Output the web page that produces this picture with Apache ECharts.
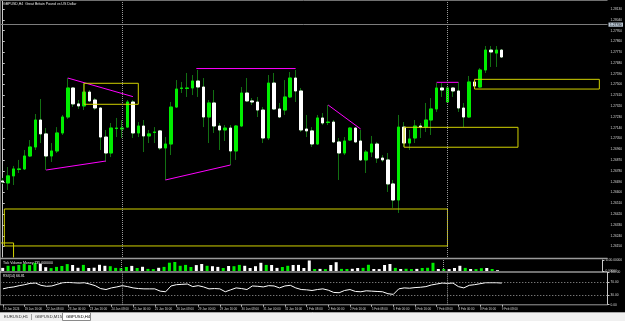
<!DOCTYPE html>
<html>
<head>
<meta charset="utf-8">
<script src="https://cdn.jsdelivr.net/npm/echarts@6/dist/echarts.min.js"></script>
<style>
html, body { margin: 0; padding: 0; background: #000; }
#main { width: 625px; height: 321px; }
</style>
</head>
<body>
<div id="main"></div>
<script>
// GBPUSD,H4 bars (0 = left-most visible bar)
var opens = [1.26697,1.26680,1.26739,1.26793,1.26797,1.26905,1.26980,1.27205,1.27089,1.26905,
  1.26947,1.27097,1.27230,1.27472,1.27339,1.27322,1.27438,1.27372,1.27305,1.27063,
  1.26930,1.27134,1.27130,1.27146,1.27355,1.27097,1.27155,1.27072,1.27101,1.27114,
  1.26972,1.27005,1.27313,1.27468,1.27468,1.27472,1.27530,1.27480,1.27230,1.27347,
  1.27155,1.27122,1.27138,1.26947,1.27155,1.27430,1.27364,1.27355,1.27288,1.27055,
  1.27513,1.27297,1.27288,1.27397,1.27555,1.27447,1.27130,1.27114,1.27005,1.27222,
  1.27184,1.27188,1.27022,1.26930,1.27038,1.27138,1.27030,1.26872,1.26938,1.27005,
  1.26888,1.26872,1.26672,1.26538,1.27146,1.27013,1.27055,1.27155,1.27146,1.27205,
  1.27297,1.27472,1.27355,1.27472,1.27447,1.27305,1.27230,1.27522,1.27480,1.27622,
  1.27788,1.27763,1.27788];
var closes = [1.26688,1.26739,1.26797,1.26797,1.26905,1.26980,1.27205,1.27089,1.26905,1.26947,
  1.27097,1.27230,1.27472,1.27339,1.27322,1.27438,1.27364,1.27305,1.27063,1.26930,
  1.27138,1.27138,1.27138,1.27355,1.27097,1.27155,1.27072,1.27089,1.27105,1.26972,
  1.27005,1.27313,1.27463,1.27472,1.27472,1.27530,1.27480,1.27230,1.27347,1.27155,
  1.27122,1.27138,1.26947,1.27155,1.27430,1.27364,1.27355,1.27288,1.27055,1.27513,
  1.27297,1.27230,1.27397,1.27555,1.27447,1.27122,1.27114,1.27005,1.27222,1.27180,
  1.27188,1.27022,1.26930,1.27030,1.27138,1.27022,1.26872,1.26938,1.27005,1.26888,
  1.26872,1.26672,1.26538,1.27146,1.27013,1.27047,1.27155,1.27146,1.27205,1.27297,
  1.27472,1.27455,1.27472,1.27447,1.27305,1.27230,1.27522,1.27488,1.27622,1.27788,
  1.27772,1.27788,1.27730];
var lows = [1.26672,1.26622,1.26663,1.26763,1.26788,1.26896,1.26955,1.27013,1.26788,1.26855,
  1.26930,1.27080,1.27214,1.27313,1.27297,1.27288,1.27355,1.27288,1.26955,1.26855,
  1.26896,1.27063,1.27055,1.27138,1.27055,1.27063,1.26938,1.27013,1.27013,1.26955,
  1.26705,1.26913,1.27305,1.27430,1.27397,1.27413,1.27397,1.27146,1.27013,1.27097,
  1.26955,1.27030,1.26830,1.26872,1.27146,1.27355,1.27330,1.27230,1.27013,1.27038,
  1.27288,1.27222,1.27247,1.27388,1.27355,1.27105,1.27063,1.26980,1.26997,1.27163,
  1.27163,1.27013,1.26705,1.26913,1.27030,1.27013,1.26863,1.26763,1.26896,1.26847,
  1.26855,1.26605,1.26472,1.26430,1.26980,1.26955,1.27013,1.27055,1.27105,1.27080,
  1.27272,1.27397,1.27347,1.27397,1.27272,1.27146,1.27222,1.27480,1.27472,1.27597,
  1.27647,1.27647,1.27722];
var highs = [1.26722,1.26813,1.26822,1.26872,1.26955,1.27038,1.27255,1.27380,1.27138,1.27013,
  1.27146,1.27247,1.27555,1.27480,1.27372,1.27513,1.27455,1.27388,1.27313,1.27122,
  1.27180,1.27222,1.27205,1.27372,1.27372,1.27188,1.27205,1.27122,1.27146,1.27122,
  1.27063,1.27355,1.27538,1.27522,1.27597,1.27580,1.27622,1.27555,1.27372,1.27455,
  1.27180,1.27163,1.27163,1.27163,1.27480,1.27555,1.27388,1.27397,1.27313,1.27580,
  1.27597,1.27347,1.27538,1.27605,1.27622,1.27472,1.27247,1.27146,1.27247,1.27263,
  1.27330,1.27205,1.27055,1.27063,1.27146,1.27146,1.27122,1.26955,1.27072,1.27022,
  1.26913,1.26930,1.26705,1.27247,1.27188,1.27122,1.27205,1.27180,1.27347,1.27388,
  1.27513,1.27513,1.27480,1.27480,1.27522,1.27347,1.27572,1.27538,1.27638,1.27822,
  1.27822,1.27822,1.27797];
var volumes = [310,520,480,610,700,590,820,730,380,290,
  410,500,690,600,320,610,300,330,620,520,
  480,310,290,400,510,300,420,210,190,320,
  410,830,900,520,610,400,590,700,520,480,
  410,300,500,480,610,520,300,480,820,610,
  600,310,400,520,600,610,300,1050,200,210,
  190,600,880,210,200,220,300,310,620,200,
  190,600,700,310,200,220,190,210,300,320,
  820,200,210,190,300,520,310,200,190,280,
  300,200,80];
var rsi = [49,53,55,59,62,66,67,60,57,58,
  63,68,69,68,67,68,64,59,50,47,
  52,55,59,56,52,50,49,49,49,42,
  40,58,62,63,64,56,59,55,49,50,
  49,40,46,52,50,47,58,57,55,59,
  58,52,58,60,52,47,46,44,47,49,
  45,38,37,44,47,41,40,43,42,41,
  40,34,32,49,52,51,53,54,56,61,
  64,67,66,67,56,52,60,62,65,68,
  68,68,67];
// one time label every 4 bars
var timeLabels = ['19 Jan 2024','19 Jan 16:00','22 Jan 08:00','23 Jan 00:00','23 Jan 16:00','24 Jan 08:00',
  '25 Jan 00:00','25 Jan 16:00','26 Jan 08:00','29 Jan 00:00','29 Jan 16:00','30 Jan 08:00',
  '31 Jan 00:00','31 Jan 16:00','1 Feb 08:00','2 Feb 00:00','2 Feb 16:00','5 Feb 08:00',
  '6 Feb 00:00','6 Feb 16:00','7 Feb 08:00','8 Feb 00:00','8 Feb 16:00','9 Feb 08:00'];
var priceTicks = [1.28130,1.28040,1.27950,1.27860,1.27770,1.27680,1.27590,1.27500,1.27410,1.27320,
  1.27230,1.27140,1.27050,1.26960,1.26870,1.26780,1.26690,1.26600,1.26510,1.26420,
  1.26330,1.26240,1.26150];
var volTicks = [0, 1100];
var rsiTicks = [0, 30, 70, 100];
var rsiLevels = [70, 30];
var bidPrice = 1.27730;
var separators = [22, 82];
// objects drawn on the chart, in bar index / price
var trendLines = [
  [12, 1.27555, 24, 1.27400],
  [8, 1.26788, 19, 1.26863],
  [30, 1.26705, 42, 1.26830],
  [35.7, 1.27634, 54, 1.27634],
  [60, 1.27330, 66, 1.27130],
  [80, 1.27519, 84, 1.27519]
];
var boxes = [
  [15, 25, 1.27336, 1.27511],
  [74, 95, 1.26978, 1.27144],
  [87, 110, 1.27463, 1.27544],
  [0.3, 82, 1.26155, 1.26463],
  [-1, 2, 1.26000, 1.26180]
];

var upColor = '#00ee00';
var downColor = '#ffffff';
var wickColor = '#127012';
var magenta = '#ff00ff';
var yellow = '#d2d200';
var axisColor = '#c8c8c8';
var font = 'Liberation Sans';
var nSlots = 112;

var categories = [];
for (var i = 0; i < nSlots; i++) {
  categories.push(i % 4 === 0 && i / 4 < timeLabels.length ? timeLabels[i / 4] : '');
}
var wickData = opens.map(function (o, i) { return [o, closes[i], lows[i], highs[i]]; });
var bodyData = opens.map(function (o, i) {
  return [o, closes[i], Math.min(o, closes[i]), Math.max(o, closes[i])];
});
var volData = volumes.map(function (v, i) {
  return { value: v, itemStyle: { color: closes[i] >= opens[i] ? upColor : downColor } };
});

var dotted = { color: '#9a9a9a', type: [1, 1], width: 1 };
function sepLines() {
  return separators.map(function (s) { return { xAxis: s, lineStyle: dotted, label: { show: false } }; });
}

var overlays = [];
trendLines.forEach(function (t) {
  overlays.push({
    type: 'line', xAxisIndex: 3, yAxisIndex: 0, data: [[t[0], t[1]], [t[2], t[3]]],
    symbol: 'none', silent: true, clip: true, z: 4,
    lineStyle: { color: magenta, width: 1 }
  });
});
boxes.forEach(function (b) {
  overlays.push({
    type: 'line', xAxisIndex: 3, yAxisIndex: 0,
    data: [[b[0], b[2]], [b[1], b[2]], [b[1], b[3]], [b[0], b[3]], [b[0], b[2]]],
    symbol: 'none', silent: true, clip: true, z: 4,
    lineStyle: { color: yellow, width: 1 }
  });
});

function yAx(grid, min, max, ticks, fmt) {
  return {
    type: 'value', gridIndex: grid, position: 'right', min: min, max: max, scale: true,
    splitLine: { show: false },
    axisLine: { show: true, lineStyle: { color: axisColor, width: 1 } },
    axisTick: { show: true, length: 2, customValues: ticks, lineStyle: { color: axisColor } },
    axisLabel: {
      show: true, customValues: ticks, color: '#d8d8d8', fontSize: 3.2, fontFamily: font, margin: 3,
      formatter: fmt
    }
  };
}

var gl = -2.1, gr = 17.5;
var option = {
  backgroundColor: '#000',
  animation: false,
  grid: [
    { left: gl, right: gr, top: 1, height: 256 },
    { left: gl, right: gr, top: 260, height: 11 },
    { left: gl, right: gr, top: 272.4, height: 32.3 }
  ],
  xAxis: [
    { type: 'category', gridIndex: 0, data: categories, boundaryGap: true,
      axisLine: { show: false }, axisTick: { show: false }, axisLabel: { show: false } },
    { type: 'category', gridIndex: 1, data: categories, boundaryGap: true,
      axisLine: { show: false }, axisTick: { show: false }, axisLabel: { show: false } },
    { type: 'category', gridIndex: 2, data: categories, boundaryGap: true,
      axisLine: { show: false },
      axisTick: { show: true, length: 2, alignWithLabel: true,
        interval: function (i, v) { return v !== ''; }, lineStyle: { color: axisColor } },
      axisLabel: { show: true, interval: 0, color: '#d0d0d0', fontSize: 3, fontFamily: font,
        align: 'left', margin: 2.5 } },
    { type: 'value', gridIndex: 0, min: -0.5, max: nSlots - 0.5, show: false }
  ],
  yAxis: [
    yAx(0, 1.26063, 1.28197, priceTicks, function (v) { return v.toFixed(5); }),
    yAx(1, 0, 1100, volTicks, function (v) { return v.toFixed(5); }),
    yAx(2, 0, 100, rsiTicks, function (v) { return v.toFixed(2); })
  ],
  series: [
    { type: 'candlestick', name: 'wick', xAxisIndex: 0, yAxisIndex: 0, data: wickData, barWidth: 3,
      silent: true,
      itemStyle: { color: wickColor, color0: wickColor, borderColor: wickColor, borderColor0: wickColor, borderWidth: 1 } },
    { type: 'candlestick', name: 'GBPUSD,H4', xAxisIndex: 0, yAxisIndex: 0, data: bodyData, barWidth: 3,
      silent: true,
      itemStyle: { color: upColor, color0: downColor, borderColor: upColor, borderColor0: downColor, borderWidth: 1 },
      markLine: {
        symbol: 'none', silent: true, animation: false,
        data: [{
          yAxis: bidPrice,
          lineStyle: { color: '#7c7c7c', type: 'solid', width: 1 },
          label: { show: true, position: 'end', distance: 1, formatter: bidPrice.toFixed(5),
            backgroundColor: '#b9c6d3', color: '#000', fontSize: 3.2, fontFamily: font, padding: [0.6, 1.5] }
        }].concat(sepLines())
      } },
    { type: 'bar', name: 'Volume', xAxisIndex: 1, yAxisIndex: 1, data: volData, barWidth: 3, silent: true,
      markLine: { symbol: 'none', silent: true, animation: false, data: sepLines() } },
    { type: 'line', name: 'RSI(14)', xAxisIndex: 2, yAxisIndex: 2, data: rsi, symbol: 'none', silent: true,
      lineStyle: { color: '#ffffff', width: 1 },
      markLine: { symbol: 'none', silent: true, animation: false,
        data: rsiLevels.map(function (l) {
          return { yAxis: l, lineStyle: { color: '#a0a0a0', type: [1, 2], width: 1 }, label: { show: false } };
        }).concat(sepLines()) } }
  ].concat(overlays),
  graphic: [
    { type: 'line', shape: { x1: 0, y1: 0.5, x2: 607.5, y2: 0.5 }, style: { stroke: '#707070', lineWidth: 1 }, z: 100 },
    { type: 'line', shape: { x1: 0.5, y1: 0, x2: 0.5, y2: 305 }, style: { stroke: '#707070', lineWidth: 1 }, z: 100 },
    { type: 'line', shape: { x1: 0, y1: 258.5, x2: 607.5, y2: 258.5 }, style: { stroke: '#9a9a9a', lineWidth: 1.5 }, z: 100 },
    { type: 'line', shape: { x1: 0, y1: 272, x2: 607.5, y2: 272 }, style: { stroke: '#e0e0e0', lineWidth: 1 }, z: 100 },
    { type: 'line', shape: { x1: 0, y1: 304.8, x2: 607.5, y2: 304.8 }, style: { stroke: '#9a9a9a', lineWidth: 1 }, z: 100 },
    { type: 'text', x: 3, y: 1.6, style: { text: 'GBPUSD,H4  Great Britain Pound vs US Dollar', fill: '#e8e8e8', fontSize: 3.5, fontFamily: font }, z: 100 },
    { type: 'text', x: 3, y: 261, style: { text: 'Tick Volume Money 735.000000', fill: '#e8e8e8', fontSize: 3.5, fontFamily: font }, z: 100 },
    { type: 'text', x: 3, y: 274, style: { text: 'RSI(14) 66.81', fill: '#e8e8e8', fontSize: 3.5, fontFamily: font }, z: 100 },
    { type: 'rect', shape: { x: 0, y: 312, width: 625, height: 9 }, style: { fill: '#f0f0f0' }, z: 100 },
    { type: 'line', shape: { x1: 0, y1: 312.5, x2: 625, y2: 312.5 }, style: { stroke: '#a8a8a8', lineWidth: 1 }, z: 101 },
    { type: 'text', x: 4, y: 315, style: { text: 'EURUSD,H1', fill: '#303030', fontSize: 4.2, fontFamily: font }, z: 101 },
    { type: 'line', shape: { x1: 31.5, y1: 314, x2: 31.5, y2: 320 }, style: { stroke: '#a0a0a0', lineWidth: 1 }, z: 101 },
    { type: 'text', x: 35, y: 315, style: { text: 'GBPUSD,M15', fill: '#303030', fontSize: 4.2, fontFamily: font }, z: 101 },
    { type: 'rect', shape: { x: 62.5, y: 312.5, width: 28, height: 8 }, style: { fill: '#ffffff', stroke: '#8a8a8a', lineWidth: 1 }, z: 101 },
    { type: 'text', x: 66, y: 315, style: { text: 'GBPUSD,H4', fill: '#000000', fontSize: 4.2, fontFamily: font }, z: 102 }
  ]
};

var chart = echarts.init(document.getElementById('main'));
chart.setOption(option);
</script>
</body>
</html>
